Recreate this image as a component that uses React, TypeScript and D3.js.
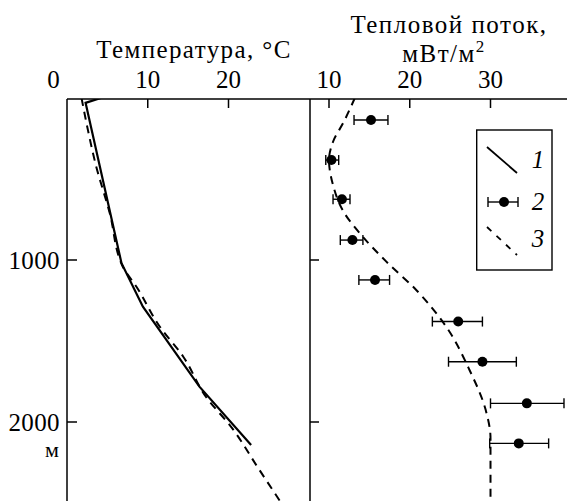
import * as d3 from 'd3';

// Temperature log (solid, 1): [°C, depth m]
const tempMeasured: [number, number][] = [
    [4.2, 0], [2.3, 30], [6.75, 1020], [9.4, 1288], [16.4, 1782], [22.8, 2142],
];

// Modelled temperature (dashed, 3, left panel): [°C, depth m]
const tempModel: [number, number][] = [
    [1.8, 0], [2.6, 200], [3.5, 400], [5.3, 712], [6.9, 1040], [8.6, 1165],
    [11.5, 1412], [14.4, 1597], [17.2, 1844], [20.4, 2035], [23.7, 2286], [26.8, 2520],
];

// Heat-flow estimates (2): depth, value, error bar low/high, mW/m²
const flowDepth = [136, 383, 625, 877, 1123, 1380, 1628, 1885, 2132];
const flowValue = [15.2, 10.3, 11.6, 12.9, 15.7, 26.0, 29.0, 34.5, 33.5];
const flowLow = [13.1, 9.6, 10.5, 11.4, 13.7, 22.8, 24.8, 30.0, 29.9];
const flowHigh = [17.3, 11.2, 12.6, 14.2, 17.5, 29.0, 33.2, 39.1, 37.2];

// Modelled heat flow (dashed, 3, right panel): [mW/m², depth m]
const flowModel: [number, number][] = [
    [13.2, 0], [11.8, 150], [10.5, 270], [10.0, 383], [10.5, 537], [11.8, 702],
    [14.0, 846], [17.1, 1010], [20.8, 1185], [24.5, 1411], [27.4, 1679],
    [29.4, 1925], [30.0, 2100], [30.0, 2520],
];

const tempTicks = [10, 20];
const flowTicks = [10, 20, 30];
const depthTicks = [1000, 2000];

const W = 567;
const H = 501;
const top = 99;
const left = 67;
const split = 310;

function Label(props: any) {
    const { children, ...rest } = props;
    return (
        <text style={{ fontFamily: "'Liberation Serif'" }} {...rest}>
            {children}
        </text>
    );
}

export default function App() {
    const y = d3.scaleLinear().domain([0, 2000]).range([98, 422]);
    const xT = d3.scaleLinear().domain([0, 20]).range([67, 228.5]);
    const xQ = d3.scaleLinear().domain([10, 30]).range([329, 490.5]);

    const lineT = d3.line<[number, number]>()
        .x(d => xT(d[0]))
        .y(d => y(d[1]));
    const lineTModel = d3.line<[number, number]>()
        .x(d => xT(d[0]))
        .y(d => y(d[1]))
        .curve(d3.curveMonotoneY);
    const lineQ = d3.line<[number, number]>()
        .x(d => xQ(d[0]))
        .y(d => y(d[1]))
        .curve(d3.curveMonotoneY);

    const dash = '8,6';

    return (
        <svg width={W} height={H} style={{ position: 'absolute', left: 0, top: 0, background: '#fff' }}>
            <defs>
                <clipPath id="clipL"><rect x={left} y={top} width={split - left} height={H - top} /></clipPath>
                <clipPath id="clipR"><rect x={split} y={top} width={W - split} height={H - top} /></clipPath>
            </defs>

            {/* titles */}
            <Label x={194} y={58} fontSize={25} letterSpacing={1.4} textAnchor="middle">Температура, °C</Label>
            <Label x={449} y={33} fontSize={25} letterSpacing={1.5} textAnchor="middle">Тепловой поток,</Label>
            <Label x={444} y={62} fontSize={25} letterSpacing={1.5} textAnchor="middle">
                мВт/м<tspan dy={-10} fontSize={17}>2</tspan>
            </Label>

            {/* top tick labels */}
            <Label x={53.5} y={88} fontSize={25} textAnchor="middle">0</Label>
            {tempTicks.map(t => (
                <Label key={'tl' + t} x={xT(t)} y={88} fontSize={25} textAnchor="middle">{t}</Label>
            ))}
            {flowTicks.map(t => (
                <Label key={'ql' + t} x={xQ(t)} y={88} fontSize={25} textAnchor="middle">{t}</Label>
            ))}

            {/* depth labels */}
            {depthTicks.map(d => (
                <Label key={'dl' + d} x={60} y={y(d) + 9} fontSize={25} letterSpacing={0.4} textAnchor="end">{d}</Label>
            ))}
            <Label x={52} y={457} fontSize={22} textAnchor="middle">м</Label>

            {/* frame */}
            <g stroke="#000" strokeWidth={1.5} fill="none">
                <line x1={left} y1={top} x2={W} y2={top} />
                <line x1={left} y1={top} x2={left} y2={H} />
                <line x1={split} y1={top} x2={split} y2={H} />
                {tempTicks.map(t => (
                    <line key={'tt' + t} x1={xT(t)} y1={top} x2={xT(t)} y2={top + 9} />
                ))}
                {flowTicks.map(t => (
                    <line key={'qt' + t} x1={xQ(t)} y1={top} x2={xQ(t)} y2={top + 9} />
                ))}
                {depthTicks.map(d => (
                    <g key={'dt' + d}>
                        <line x1={left} y1={y(d)} x2={left + 10} y2={y(d)} />
                        <line x1={split} y1={y(d)} x2={split + 9} y2={y(d)} />
                    </g>
                ))}
            </g>

            {/* left panel */}
            <g clipPath="url(#clipL)" fill="none" stroke="#000">
                <path d={lineTModel(tempModel) ?? ''} strokeWidth={2} strokeDasharray={dash} />
                <path d={lineT(tempMeasured) ?? ''} strokeWidth={2.2} />
            </g>

            {/* right panel */}
            <g clipPath="url(#clipR)">
                <path d={lineQ(flowModel) ?? ''} fill="none" stroke="#000" strokeWidth={2} strokeDasharray={dash} />
                {flowDepth.map((d, i) => (
                    <g key={'p' + i} stroke="#000" strokeWidth={1.4}>
                        <line x1={xQ(flowLow[i])} x2={xQ(flowHigh[i])} y1={y(d)} y2={y(d)} />
                        <line x1={xQ(flowLow[i])} x2={xQ(flowLow[i])} y1={y(d) - 5} y2={y(d) + 5} />
                        <line x1={xQ(flowHigh[i])} x2={xQ(flowHigh[i])} y1={y(d) - 5} y2={y(d) + 5} />
                        <circle cx={xQ(flowValue[i])} cy={y(d)} r={5} stroke="none" fill="#000" />
                    </g>
                ))}
            </g>

            {/* legend */}
            <g>
                <rect x={476.7} y={130} width={75.3} height={140} fill="#fff" stroke="#000" strokeWidth={1.4} />
                <line x1={487} y1={147} x2={517} y2={173} stroke="#000" strokeWidth={1.8} />
                <Label x={538} y={168} fontSize={25} fontStyle="italic" textAnchor="middle">1</Label>
                <g stroke="#000" strokeWidth={1.4}>
                    <line x1={488} x2={518} y1={202} y2={202} />
                    <line x1={488} x2={488} y1={197} y2={207} />
                    <line x1={518} x2={518} y1={197} y2={207} />
                    <circle cx={504} cy={202} r={5} stroke="none" fill="#000" />
                </g>
                <Label x={538} y={210} fontSize={25} fontStyle="italic" textAnchor="middle">2</Label>
                <line x1={487} y1={227} x2={517} y2={255} stroke="#000" strokeWidth={1.8} strokeDasharray="6,7" />
                <Label x={538} y={247} fontSize={25} fontStyle="italic" textAnchor="middle">3</Label>
            </g>
        </svg>
    );
}
